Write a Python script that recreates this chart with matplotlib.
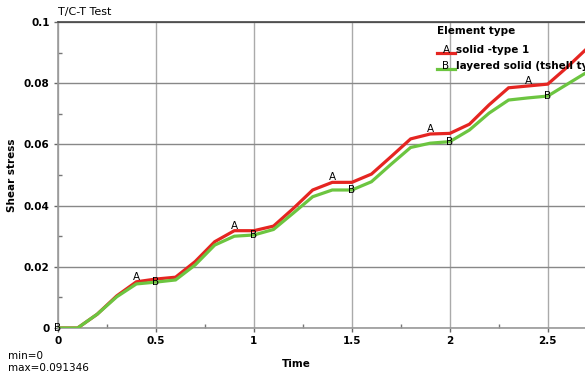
import matplotlib
matplotlib.use('Agg')
import matplotlib.pyplot as plt
from matplotlib.ticker import MultipleLocator

# time steps and shear stress of the two element types
time = [0.0, 0.1, 0.2, 0.3, 0.4, 0.5, 0.6, 0.7, 0.8, 0.9,
        1.0, 1.1, 1.2, 1.3, 1.4, 1.5, 1.6, 1.7, 1.8, 1.9,
        2.0, 2.1, 2.2, 2.3, 2.4, 2.5, 2.6, 2.7]
solid = [0, 0, 0.0045, 0.0105, 0.0151, 0.0160, 0.0166, 0.0217, 0.0282, 0.0318,
         0.0318, 0.0333, 0.0390, 0.0451, 0.0476, 0.0476, 0.0503, 0.0560, 0.0618, 0.0634,
         0.0636, 0.0666, 0.0729, 0.0785, 0.0791, 0.0797, 0.0853, 0.091346]
layered = [0, 0, 0.0045, 0.0102, 0.0144, 0.0150, 0.0157, 0.0206, 0.0271, 0.0300,
           0.0304, 0.0322, 0.0375, 0.0429, 0.0451, 0.0451, 0.0478, 0.0535, 0.0590, 0.0604,
           0.0609, 0.0647, 0.0702, 0.0745, 0.0752, 0.0758, 0.0797, 0.0836]
names = ["solid -type 1", "layered solid (tshell type 5"]
letters = ["A", "B"]
colors = ["#e52521", "#6cc540"]

plt.rcParams['font.family'] = ['DejaVu Sans']
fs = 7.5

fig = plt.figure(figsize=(5.85, 3.74), dpi=100)
ax = fig.add_axes([58 / 585, 1 - 328 / 374, 527 / 585, 306 / 374])

ax.plot(time, solid, color=colors[0], lw=2.3, solid_joinstyle='miter', zorder=3)
ax.plot(time, layered, color=colors[1], lw=2.3, solid_joinstyle='miter', zorder=3)

# curve letters
for i in range(4, len(time), 5):
    ax.text(time[i], solid[i], "A", fontsize=fs, ha='center', va='bottom', zorder=4)
for i in range(0, len(time), 5):
    ax.text(time[i], layered[i], "B", fontsize=fs, ha='center', va='center', zorder=4)

ax.set_xlim(0, 2.69)
ax.set_ylim(0, 0.1)
ax.xaxis.set_minor_locator(MultipleLocator(0.25))
ax.yaxis.set_minor_locator(MultipleLocator(0.01))
ax.set_xticks([0, 0.5, 1, 1.5, 2, 2.5])
ax.set_xticklabels(["0", "0.5", "1", "1.5", "2", "2.5"])
ax.set_yticks([0, 0.02, 0.04, 0.06, 0.08, 0.1])
ax.set_yticklabels(["0", "0.02", "0.04", "0.06", "0.08", "0.1"])
ax.tick_params(which='major', direction='out', length=3, width=1, color='#666666',
               labelsize=fs, pad=3)
ax.tick_params(which='minor', direction='in', length=3, width=1, color='#777777')
for lab in ax.get_xticklabels() + ax.get_yticklabels():
    lab.set_fontweight('bold')

ax.grid(which='major', axis='x', color='#aaaaaa', lw=1)
ax.grid(which='major', axis='y', color='#888888', lw=1)
ax.set_axisbelow(True)
ax.spines['right'].set_visible(False)
ax.spines['top'].set_color('#444444')
ax.spines['left'].set_color('#999999')
ax.spines['bottom'].set_color('#999999')
for s in ['top', 'left', 'bottom']:
    ax.spines[s].set_linewidth(1.2)

ax.set_ylabel("Shear stress", fontsize=fs, fontweight='bold')
ax.yaxis.set_label_coords((17 - 58) / 527, (328 - 175) / 306)
fig.text(296 / 585, 1 - 364 / 374, "Time", fontsize=fs, fontweight='bold',
         va='center', ha='center')

fig.text(58 / 585, 1 - 12 / 374, "T/C-T Test", fontsize=fs + 0.5, va='center', ha='left')
fig.text(8 / 585, 1 - 356 / 374, "min=0", fontsize=fs, va='center', ha='left')
fig.text(8 / 585, 1 - 368 / 374, "max=0.091346", fontsize=fs, va='center', ha='left')

# legend drawn by hand
fig.text(437 / 585, 1 - 31 / 374, "Element type", fontsize=fs, fontweight='bold',
         va='center', ha='left')
for k in range(2):
    yy = 1 - (53 + 16 * k) / 374
    fig.lines.append(plt.Line2D([437 / 585, 455 / 585], [yy, yy], color=colors[k], lw=2.3,
                                transform=fig.transFigure))
    fig.text(446 / 585, yy + 3 / 374, letters[k], fontsize=fs, va='center', ha='center')
    fig.text(456 / 585, yy + 3 / 374, names[k], fontsize=fs, fontweight='bold',
             va='center', ha='left')

fig.savefig('out.png', dpi=100)
